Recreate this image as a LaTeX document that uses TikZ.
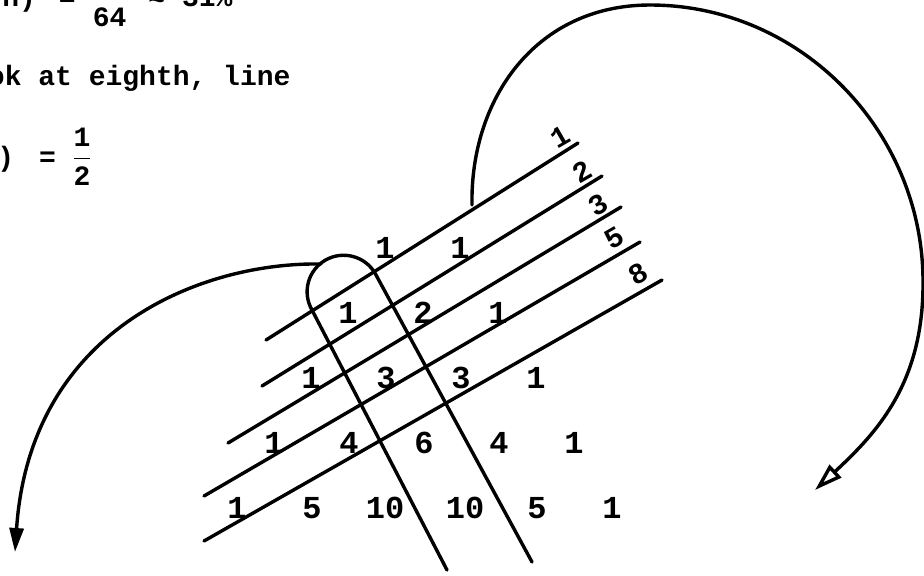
\documentclass[tikz,border=0pt]{standalone}
\usepackage{fontspec}
\setmonofont{Liberation Mono}
\usetikzlibrary{arrows.meta}
\newcommand\notefont{\ttfamily\bfseries\fontsize{14}{17}\selectfont}
\newcommand\numfont{\ttfamily\bfseries\fontsize{16}{19}\selectfont}
\newcommand\fibfont{\ttfamily\bfseries\fontsize{14.5}{17}\selectfont}

\begin{document}
\begin{tikzpicture}[
      x=0.5pt,y=-0.5pt,
      note/.style={font=\notefont,anchor=base west,inner sep=0pt},
      num/.style={font=\numfont,inner sep=0pt},
      fib/.style={font=\fibfont,inner sep=0pt,rotate=30},
      rule/.style={line width=1.7pt,line cap=round},
      swing/.style={rule,-{Triangle[length=12pt,width=7pt]}},
      swingopen/.style={rule,-{Triangle[open,length=14pt,width=8.5pt]}}
    ]
      \useasboundingbox (0,0) rectangle (924,575);

      % worked text, cut off at the page edge
      \node[note] (prob) at (2,6.5)
        {n)\hspace{11.5pt}=\hspace{7.3pt}$\displaystyle\frac{\mbox{\phantom{00}}}{\mbox{64}}$\hspace{9.8pt}≈ 31\%};
      \node[note] (look) at (-46,85) {look at eighth, line};
      \node[note] (half) at (-3,166)
        {)\hspace{12.5pt}=\hspace{7.6pt}$\displaystyle\frac{\mbox{1}}{\mbox{2}}$};

      % shallow diagonals
      \coordinate (d1w) at (266,340); \coordinate (d1e) at (578,143);
      \coordinate (d2w) at (262,386); \coordinate (d2e) at (602,176);
      \coordinate (d3w) at (228,443); \coordinate (d3e) at (621,207);
      \coordinate (d4w) at (204,496); \coordinate (d4e) at (640,242);
      \coordinate (d5w) at (204,541); \coordinate (d5e) at (662,280);
      \draw[rule] (d1w) -- (d1e);
      \draw[rule] (d2w) -- (d2e);
      \draw[rule] (d3w) -- (d3e);
      \draw[rule] (d4w) -- (d4e);
      \draw[rule] (d5w) -- (d5e);

      % diagonal sums
      \node[fib] (f1) at (560,137) {1};
      \node[fib] (f2) at (582,172) {2};
      \node[fib] (f3) at (598,205) {3};
      \node[fib] (f5) at (614,238) {5};
      \node[fib] (f8) at (638,274) {8};

      % triangle rows
      \node[num] (p10) at (385,248) {1};
      \node[num] (p11) at (460,248) {1};
      \node[num] (p20) at (348,313) {1};
      \node[num] (p21) at (423,313) {2};
      \node[num] (p22) at (498,313) {1};
      \node[num] (p30) at (311,378) {1};
      \node[num] (p31) at (386,378) {3};
      \node[num] (p32) at (461,378) {3};
      \node[num] (p33) at (536,378) {1};
      \node[num] (p40) at (274,443) {1};
      \node[num] (p41) at (349,443) {4};
      \node[num] (p42) at (424,443) {6};
      \node[num] (p43) at (499,443) {4};
      \node[num] (p44) at (574,443) {1};
      \node[num] (p50) at (237,508) {1};
      \node[num] (p51) at (312,508) {5};
      \node[num] (p52) at (385,508) {10};
      \node[num] (p53) at (465,508) {10};
      \node[num] (p54) at (537,508) {5};
      \node[num] (p55) at (612,508) {1};

      % loop round the middle column
      \coordinate (ubl) at (447,570); \coordinate (utl) at (312,310);
      \coordinate (ubr) at (532,562);
      \draw[rule] (ubl) -- (utl)
        arc[start angle=150,end angle=330,radius=36.5] -- (ubr);

      % big swings
      \coordinate (lstart) at (321,264); \coordinate (ltip) at (15,552);
      \coordinate (rstart) at (472,205); \coordinate (rtop) at (650,5);
      \coordinate (rside) at (923,280); \coordinate (rtip) at (815,490);
      \draw[swing] (lstart) .. controls (200,262) and (30,330) .. (ltip);
      \draw[swingopen] (rstart) .. controls (470,100) and (535,5) .. (rtop)
        .. controls (800,5) and (922,130) .. (rside)
        .. controls (924,380) and (880,430) .. (rtip);
    \end{tikzpicture}
\end{document}
